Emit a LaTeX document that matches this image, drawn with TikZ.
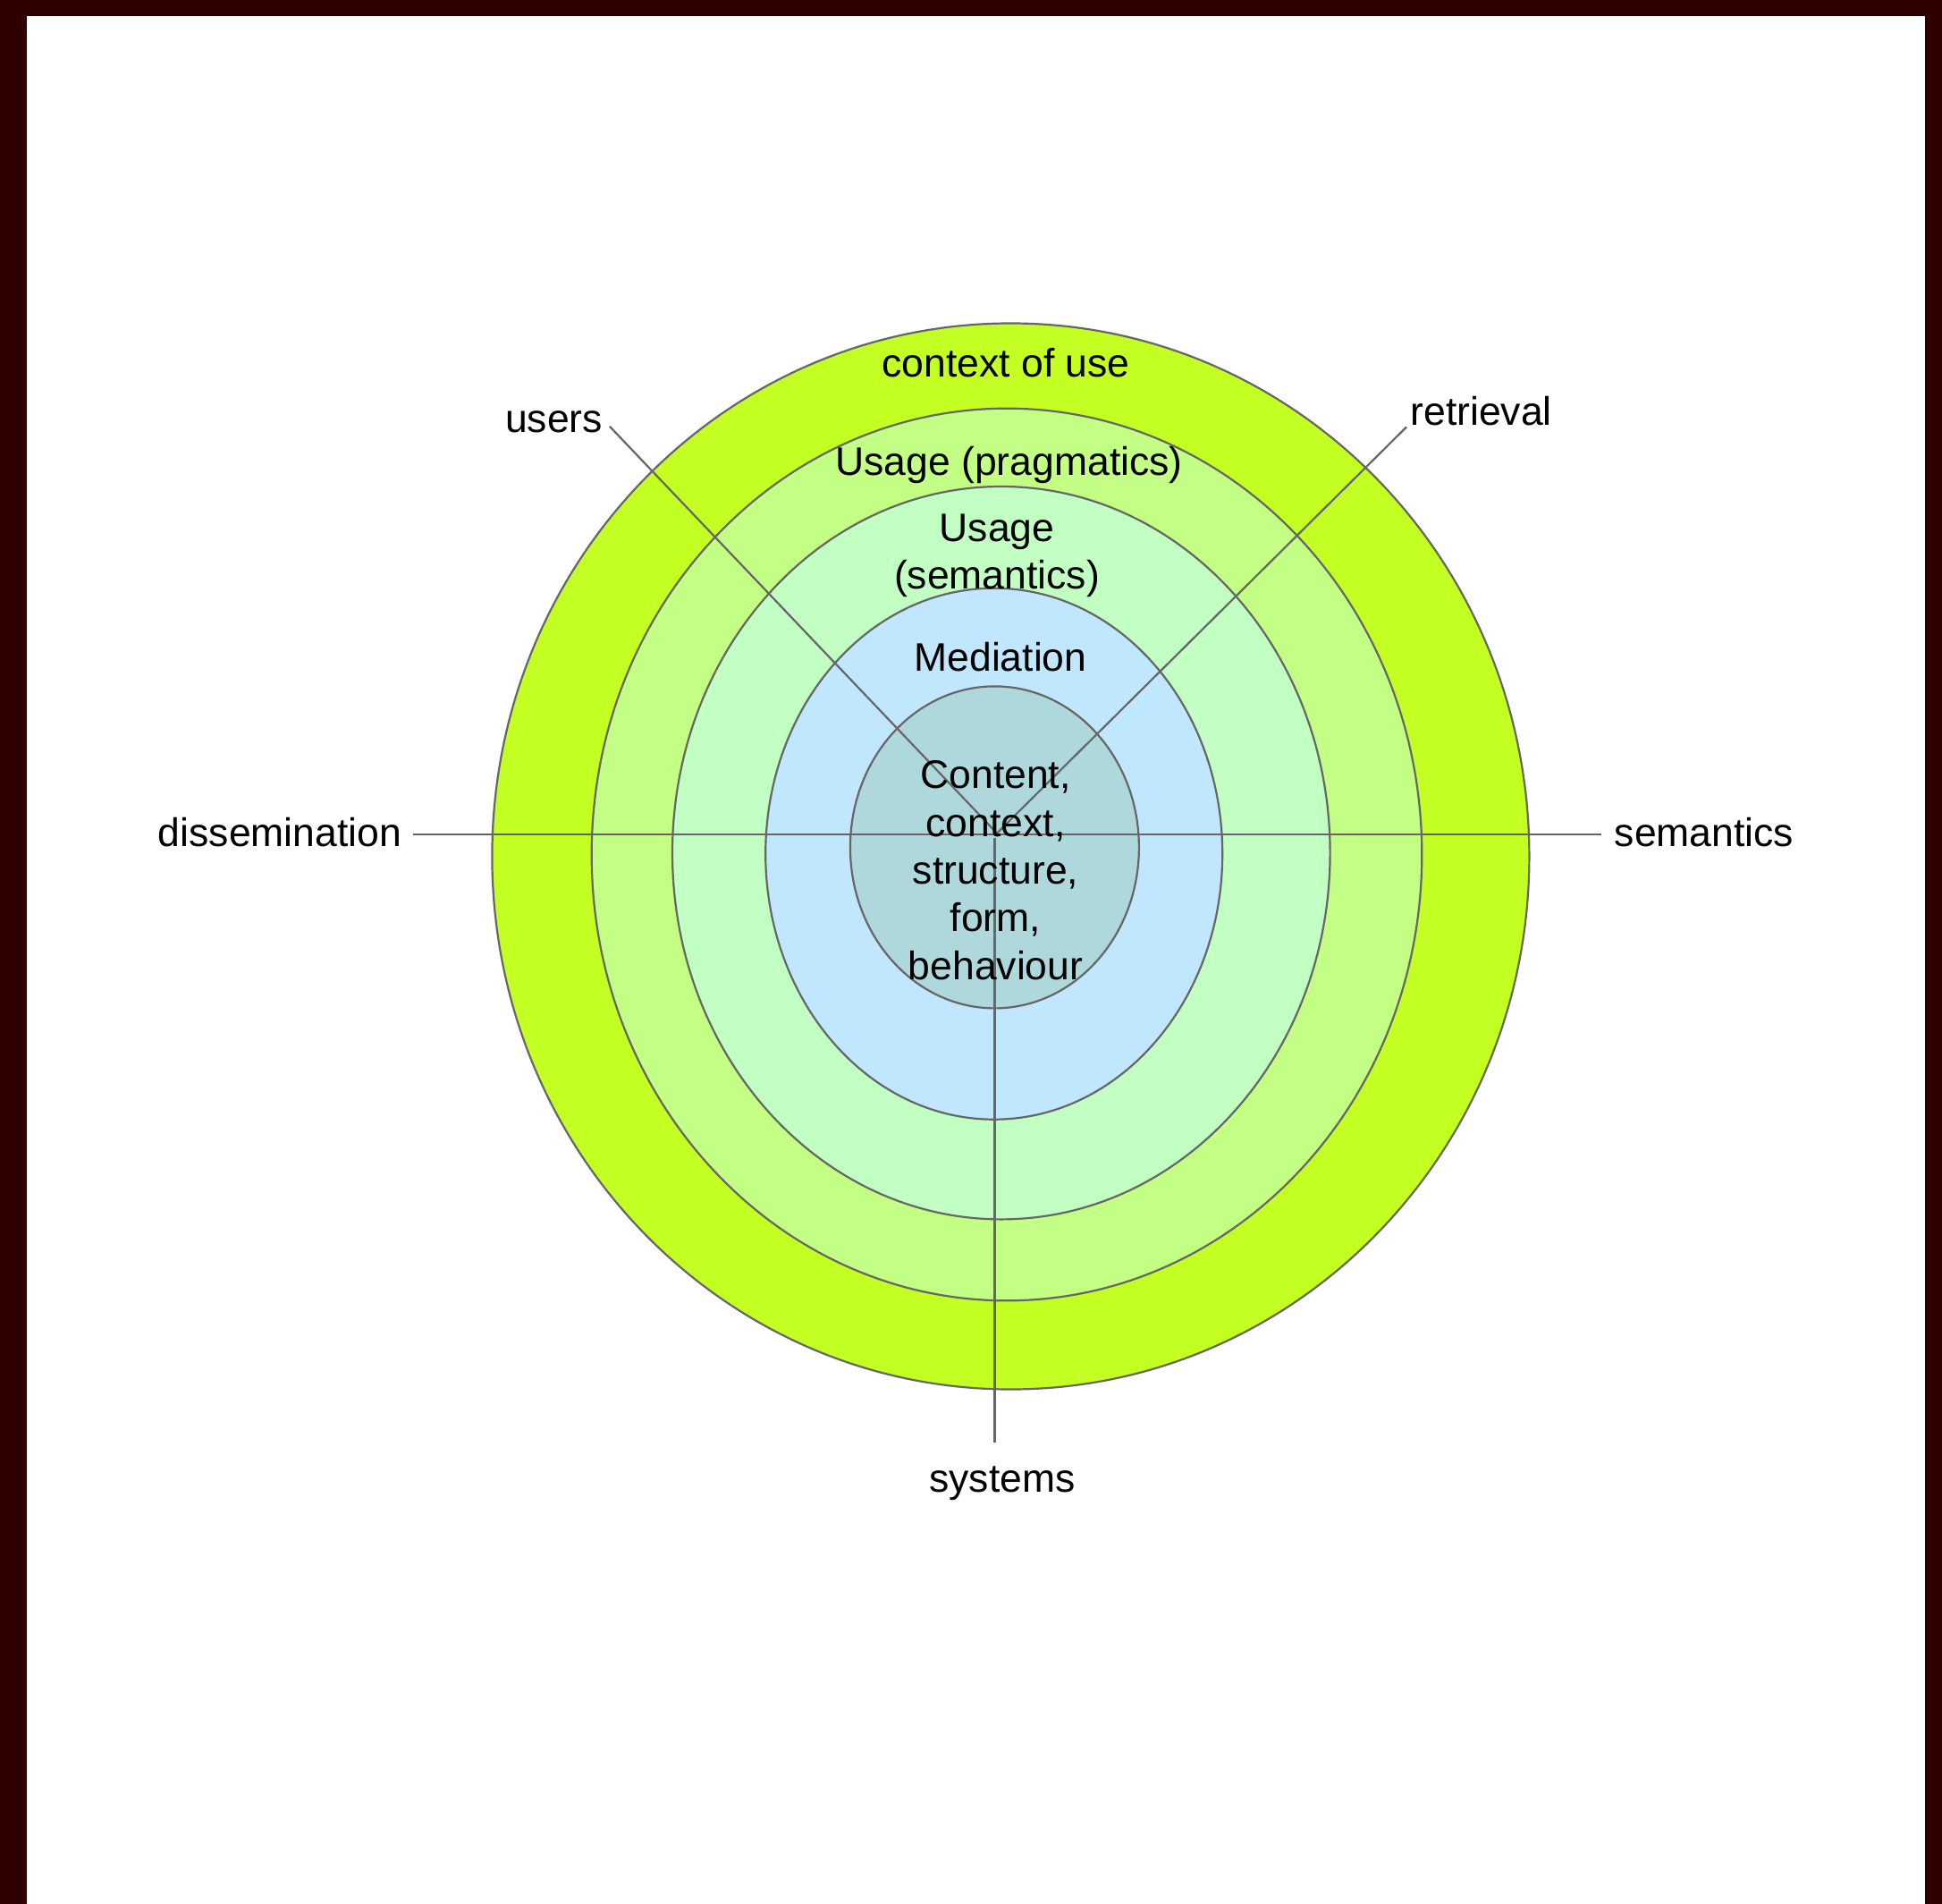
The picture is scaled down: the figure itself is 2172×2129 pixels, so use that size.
\documentclass[tikz,border=0pt]{standalone}
\usepackage{fontspec}
\setmainfont{Liberation Sans}
\definecolor{frameclr}{RGB}{48,0,0}
\definecolor{ringA}{RGB}{195,255,35}
\definecolor{ringB}{RGB}{196,255,133}
\definecolor{ringC}{RGB}{194,255,195}
\definecolor{ringD}{RGB}{193,231,255}
\definecolor{ringE}{RGB}{174,216,220}
\definecolor{strokeclr}{RGB}{102,102,102}
\begin{document}
\begin{tikzpicture}[x=0.5pt,y=-0.5pt,
  ring/.style={draw=strokeclr,line width=1.1pt},
  spoke/.style={draw=strokeclr,line width=1.1pt},
  lbl/.style={inner sep=0pt,outer sep=0pt,anchor=base,font=\fontsize{22.25pt}{26.65pt}\selectfont,align=center}]
\useasboundingbox (0,0) rectangle (2172,2129);
\fill[frameclr] (0,0) rectangle (2172,2129);
\fill[white] (30,18) rectangle (2153,2129);
% rings
\path[ring,fill=ringA] (1130.4,957.5) ellipse [x radius=580,y radius=596];
\path[ring,fill=ringB] (1126,955.5) ellipse [x radius=464.3,y radius=498.8];
\path[ring,fill=ringC] (1119.8,953.7) ellipse [x radius=367.8,y radius=409.7];
\path[ring,fill=ringD] (1111.7,954.7) ellipse [x radius=255.5,y radius=297];
\path[ring,fill=ringE] (1112.4,947.4) ellipse [x radius=161.5,y radius=180];
% spoke ends
\coordinate (hub) at (1115,931.7);
\coordinate (hubv) at (1112.5,936.7);
\coordinate (uEnd) at (681.8,476.7);
\coordinate (rEnd) at (1573,477.5);
\coordinate (dEnd) at (462,933.3);
\coordinate (sEnd) at (1791,933.3);
\coordinate (yEnd) at (1112.5,1612.7);
\draw[spoke] (uEnd) -- (hub);
\draw[spoke] (rEnd) -- (hub);
\draw[spoke] (dEnd) -- (sEnd);
\draw[spoke] (hubv) -- (yEnd);
% labels (multi-line nodes: base = last line's baseline)
\node[lbl] (ctxuse) at (1125,421.7) {context of use};
\node[lbl] (pragm) at (1128.6,531.7) {Usage (pragmatics)};
\node[lbl] (seman) at (1115,658.3) {Usage\\(semantics)};
\node[lbl] (media) at (1119,750) {Mediation};
\node[lbl] (core) at (1113.5,1095) {Content,\\context,\\structure,\\form,\\behaviour};
\node[lbl] (users) at (619.5,483) {users};
\node[lbl] (retr) at (1656.7,475) {retrieval};
\node[lbl] (dissem) at (313,946.7) {dissemination};
\node[lbl] (semout) at (1906,946.7) {semantics};
\node[lbl] (sys) at (1121,1668.3) {systems};
\end{tikzpicture}
\end{document}
